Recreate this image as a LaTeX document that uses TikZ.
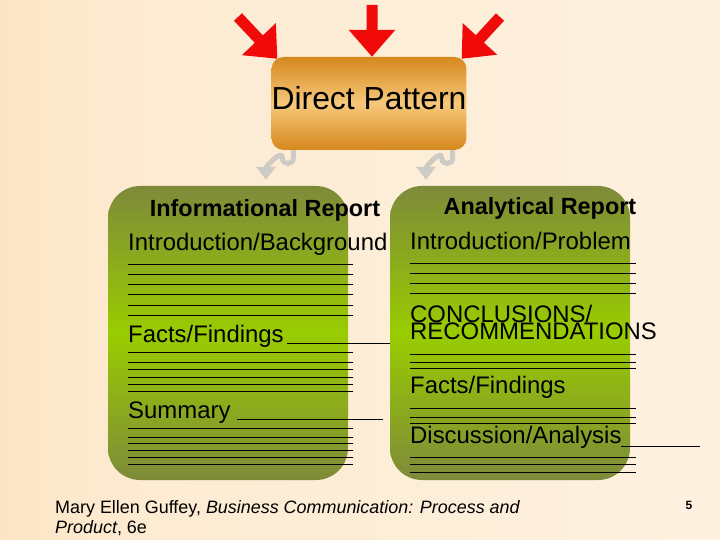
\documentclass[tikz,border=0pt]{standalone}
\usepackage{fontspec}
\setmainfont{Liberation Sans}
\usetikzlibrary{arrows.meta}
\definecolor{bgL}{RGB}{249,214,164}
\definecolor{bgM}{RGB}{253,235,210}
\definecolor{bgR}{RGB}{254,245,232}
\definecolor{orTop}{RGB}{214,136,30}
\definecolor{orMid}{RGB}{246,200,122}
\definecolor{grTop}{RGB}{126,138,58}
\definecolor{grMid}{RGB}{153,204,0}
\definecolor{arrRed}{RGB}{240,10,10}
\definecolor{sqGray}{RGB}{206,202,196}
\pgfdeclarehorizontalshading{bgshade}{100bp}{color(0bp)=(bgL); color(35bp)=(bgM); color(100bp)=(bgR)}
\begin{document}
\begin{tikzpicture}[x=1bp,y=-1bp,
  dpbox/.style={rounded corners=12bp, minimum width=186bp, minimum height=93bp,
    top color=orTop, bottom color=orTop, middle color=orMid, inner sep=0pt,
    font=\fontsize{32}{34}\selectfont, text height=22bp, text depth=9bp},
  greenbox/.style={rounded corners=32bp, minimum width=240bp, minimum height=294bp,
    top color=grTop, bottom color=grTop, middle color=grMid, inner sep=0pt},
  redarrow/.style={draw=arrRed, line width=11bp, -{Triangle[width=45bp,length=27bp]}, arrRed},
  squig/.style={draw=sqGray, line width=5bp, -{Triangle[width=19bp,length=13bp]}, sqGray},
  tx/.style={font=\fontsize{24}{25}\selectfont, anchor=base west, inner sep=0pt},
  ttl/.style={font=\bfseries\fontsize{23.5}{25}\selectfont, anchor=base, inner sep=0pt},
  ruled/.style={draw=black, line width=0.9bp}
]
\useasboundingbox (0,0) rectangle (720,540);
\fill[shading=bgshade] (0,0) rectangle (720,540);

% main boxes
\node[dpbox] (dp) at (369,103.5) {Direct Pattern};
\node[greenbox] (inf) at (228,333) {};
\node[greenbox] (ana) at (510,333) {};

% red incoming arrows
\coordinate (r1) at (238,17);
\coordinate (r2) at (372,5);
\coordinate (r3) at (500,17);
\draw[redarrow] (r1) -- ([shift={(6,2)}]dp.north west);
\draw[redarrow] (r2) -- ([xshift=3]dp.north);
\draw[redarrow] (r3) -- ([shift={(-5,2)}]dp.north east);

% grey squiggle arrows
\draw[squig] ([xshift=-76]dp.south) -- ++(0,8) .. controls +(0,7) and +(0,7) .. ++(-11,0)
   .. controls +(0,-10) and +(0,-13) .. ([shift={(38,-6)}]inf.north);
\draw[squig] ([xshift=84]dp.south) -- ++(0,8) .. controls +(0,7) and +(0,7) .. ++(-11,0)
   .. controls +(0,-10) and +(0,-13) .. ([shift={(-84,-6)}]ana.north);

% Informational report
\node[ttl] (it) at (265,217) {Informational Report};
\node[tx] (i1) at (128,251) {Introduction/Background};
\foreach \yy in {264,274,284,294,305,315} \draw[ruled] (128,\yy) -- (353,\yy);
\node[tx] (i2) at (128,342) {Facts/Findings};
\draw[ruled] (287,343) -- (390,343);
\foreach \yy in {352,362,369,377,384,391} \draw[ruled] (128,\yy) -- (353,\yy);
\node[tx] (i3) at (128,418) {Summary};
\draw[ruled] (237,419) -- (383,419);
\foreach \yy in {428,437,443,450,457,464} \draw[ruled] (128,\yy) -- (353,\yy);

% Analytical report
\node[ttl] (at) at (540,215) {Analytical Report};
\node[tx] (a1) at (410,250) {Introduction/Problem};
\foreach \yy in {263,273,283,293} \draw[ruled] (410,\yy) -- (636,\yy);
\node[tx, anchor=north west, align=left, font=\fontsize{24}{18}\selectfont] (a2) at (410,304.5)
  {CONCLUSIONS/\\RECOMMENDATIONS};
\foreach \yy in {354,362,368} \draw[ruled] (410,\yy) -- (636,\yy);
\node[tx] (a4) at (410,393) {Facts/Findings};
\foreach \yy in {408,417,423} \draw[ruled] (410,\yy) -- (636,\yy);
\node[tx] (a5) at (410,443) {Discussion/Analysis};
\draw[ruled] (621,446) -- (700,446);
\foreach \yy in {457,464,472} \draw[ruled] (410,\yy) -- (636,\yy);

% footer
\node[anchor=base west, inner sep=0pt, font=\fontsize{18}{20}\selectfont] (f1) at (55,513)
  {Mary Ellen Guffey, \textit{Business Communication: Process and}};
\node[anchor=base west, inner sep=0pt, font=\fontsize{18}{20}\selectfont] (f2) at (55,533)
  {\textit{Product}, 6e};
\node[anchor=base, inner sep=0pt, font=\bfseries\fontsize{12}{14}\selectfont] (pg) at (689,509) {5};
\end{tikzpicture}
\end{document}
